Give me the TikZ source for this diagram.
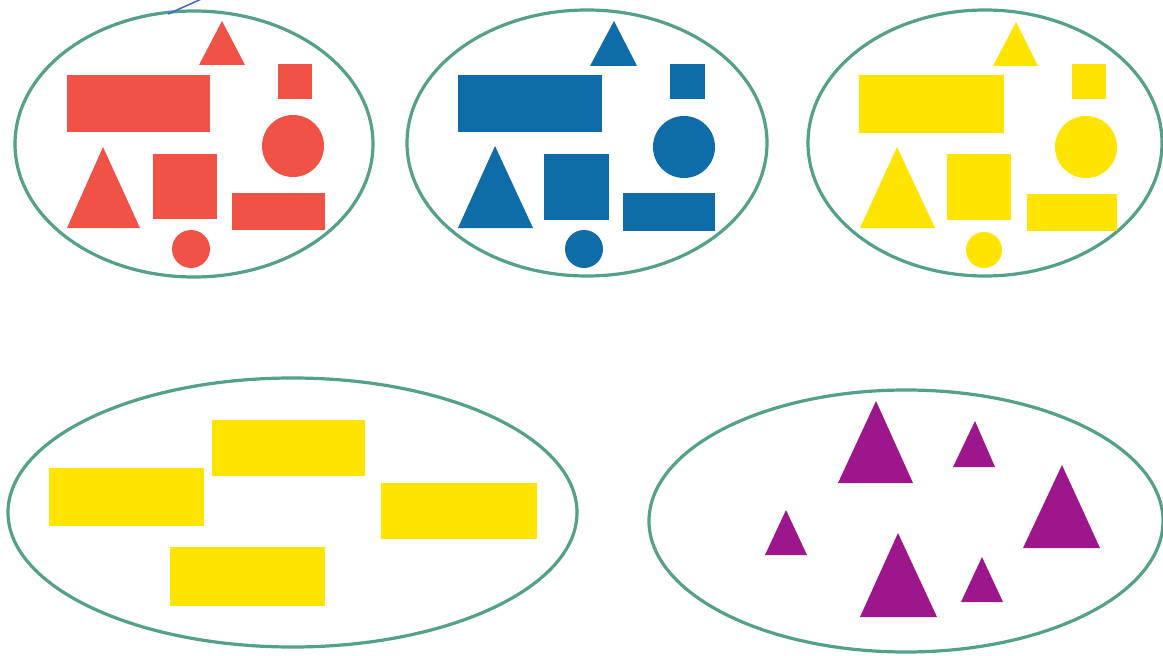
\documentclass[tikz,border=0pt]{standalone}
\begin{document}
\begin{tikzpicture}[x=0.75pt,y=-0.75pt]
\definecolor{rim}{RGB}{84,160,138}
\definecolor{cred}{RGB}{240,82,70}
\definecolor{cblue}{RGB}{14,108,168}
\definecolor{cyel}{RGB}{255,228,0}
\definecolor{cmag}{RGB}{158,22,140}
\definecolor{pen}{RGB}{60,100,205}
\tikzset{rimline/.style={draw=rim,line width=2.4pt},
  shp/.style={line width=0pt}}
\useasboundingbox[fill=white] (0,0) rectangle (1163,656);
% ---------- red set ----------
\draw[rimline] (194,144) ellipse [x radius=179,y radius=133];
\begin{scope}[fill=cred]
\fill (222,21) -- (245,65) -- (199,65) -- cycle;
\fill (67,75) rectangle (210,132);
\fill (278,64) rectangle (312,99);
\fill (293,146) circle [radius=31];
\fill (103,147) -- (140,228) -- (67,228) -- cycle;
\fill (153,154) rectangle (217,219);
\fill (232,193) rectangle (325,230);
\fill (191,249) circle [radius=19];
\end{scope}
% ---------- blue set ----------
\draw[rimline] (587,143) ellipse [x radius=180,y radius=133];
\begin{scope}[fill=cblue]
\fill (614,21) -- (637,66) -- (590,66) -- cycle;
\fill (458,75) rectangle (602,132);
\fill (670,64) rectangle (705,99);
\fill (684,147) circle [radius=31];
\fill (495,146) -- (533,228) -- (458,228) -- cycle;
\fill (544,154) rectangle (609,220);
\fill (623,193) rectangle (715,231);
\fill (584,249) circle [radius=19];
\end{scope}
% ---------- yellow set ----------
\draw[rimline] (985,143) ellipse [x radius=177,y radius=133];
\begin{scope}[fill=cyel]
\fill (1016,22) -- (1038,66) -- (993,66) -- cycle;
\fill (859,75) rectangle (1004,133);
\fill (1072,64) rectangle (1106,99);
\fill (1086,147) circle [radius=31];
\fill (897,147) -- (935,228) -- (860,228) -- cycle;
\fill (947,154) rectangle (1011,220);
\fill (1027,194) rectangle (1117,231);
\fill (984,250) circle [radius=18];
\end{scope}
% ---------- rectangles set ----------
\draw[rimline] (292.5,512.5) ellipse [x radius=284.5,y radius=134.5];
\begin{scope}[fill=cyel]
\fill (49,468) rectangle (204,526);
\fill (212,420) rectangle (365,476);
\fill (381,483) rectangle (537,539);
\fill (170,547) rectangle (325,606);
\end{scope}
% ---------- triangles set ----------
\draw[rimline] (906,521) ellipse [x radius=257,y radius=131];
\begin{scope}[fill=cmag]
\fill (876,401) -- (913,483) -- (838,483) -- cycle;
\fill (975,421) -- (995,467) -- (953,467) -- cycle;
\fill (1062,465) -- (1100,548) -- (1023,548) -- cycle;
\fill (786,510) -- (807,555) -- (765,555) -- cycle;
\fill (898,533) -- (937,617) -- (860,617) -- cycle;
\fill (982,557) -- (1003,602) -- (961,602) -- cycle;
\end{scope}
% ---------- pen stroke ----------
\coordinate (p1) at (168,14);
\coordinate (p2) at (206,-3);
\draw[pen,line width=1.1pt] (p1) -- (p2);
\end{tikzpicture}
\end{document}
